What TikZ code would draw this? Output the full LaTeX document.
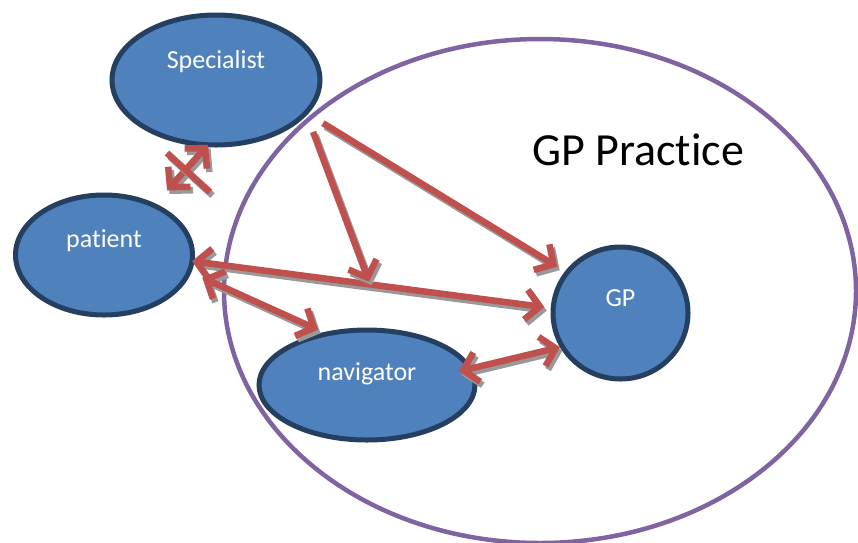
\documentclass[tikz,border=0pt]{standalone}
\usepackage{fontspec}
\setmainfont{Carlito}[Ligatures={NoCommon}]
\usetikzlibrary{shapes.geometric,arrows.meta}
\definecolor{nodefill}{HTML}{4F81BD}
\definecolor{nodeborder}{HTML}{243F60}
\definecolor{practice}{HTML}{8064A2}
\definecolor{arrowred}{HTML}{C0504D}
\definecolor{shadowgray}{HTML}{999999}
\begin{document}
\begin{tikzpicture}[x=1pt,y=-1pt,
  actor/.style={ellipse, draw=nodeborder, line width=5pt, fill=nodefill,
    text=white, font=\fontsize{26}{30}\selectfont, inner sep=0pt, outer sep=0pt},
  link/.style={draw=arrowred, line width=6.5pt,
    preaction={draw=shadowgray, line width=6.5pt,
      transform canvas={shift={(2.5pt,-3.5pt)}}}},
  barb/.tip={Straight Barb[length=14pt,width=30pt]}
]
\useasboundingbox (0,0) rectangle (858,542);
% nodes
\node[actor, minimum width=208pt, minimum height=130pt] (spec) at (216,80)
  {\raisebox{12pt}[0pt][0pt]{Specialist}};
\node[actor, minimum width=177pt, minimum height=120pt] (pat) at (104,255)
  {\raisebox{8pt}[0pt][0pt]{patient}};
\node[actor, minimum width=216pt, minimum height=110pt] (nav) at (367,385)
  {\raisebox{5pt}[0pt][0pt]{navigator}};
\node[actor, minimum width=135pt, minimum height=132pt] (gp) at (620.5,313)
  {\raisebox{7pt}[0pt][0pt]{GP}};
% practice boundary
\node[ellipse, draw=practice, line width=4.5pt, minimum width=632pt,
  minimum height=504pt, inner sep=0pt, outer sep=0pt] (practice) at (540,291) {};
\node[anchor=base west, font=\fontsize{46}{50}\selectfont, inner sep=0pt]
  (practicelabel) at (532,165) {GP Practice};
% connectors
\draw[link, barb-barb, shorten <=20pt] (pat.45) -- (spec.263);
\coordinate (crossA) at (167,153);
\coordinate (crossB) at (210,192);
\draw[link] (crossA) -- (crossB);
\draw[link, -barb, shorten <=20pt, shorten >=11.5pt] (spec.-20.7) -- (gp.143.3);
\draw[link, barb-barb, shorten >=9pt] (pat.-4.5) -- (gp.176.8)
  coordinate[pos=0.493] (meet);
\draw[link, -barb, shorten <=20.5pt, shorten >=3pt] (spec.-20.1) -- (meet);
\draw[link, barb-barb, shorten <=14.5pt, shorten >=10pt] (pat.-11.3) -- (nav.128.8);
\draw[link, barb-barb, shorten <=-11.6pt, shorten >=2.5pt] (nav.9.7) -- (gp.210);
\end{tikzpicture}
\end{document}
